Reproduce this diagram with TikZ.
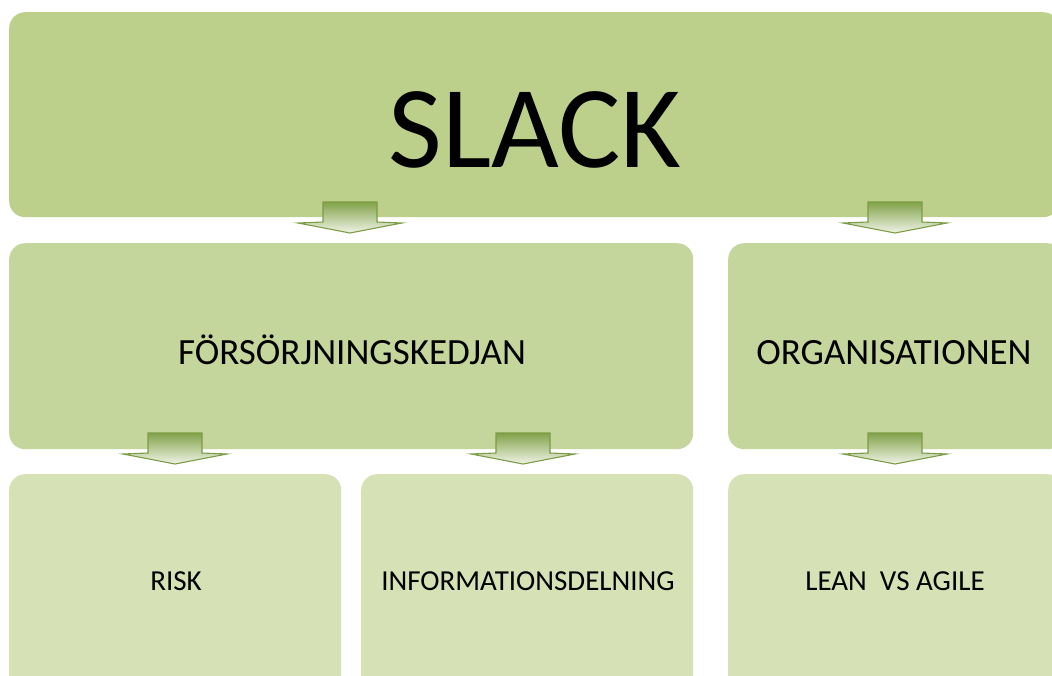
\documentclass[tikz,border=0pt]{standalone}
\usepackage{fontspec}
\setmainfont{Carlito}
\definecolor{topgreen}{HTML}{BDD08B}
\definecolor{midgreen}{HTML}{C4D69B}
\definecolor{botgreen}{HTML}{D6E2B5}
\definecolor{arrowdark}{HTML}{82A24A}
\definecolor{arrowlight}{HTML}{F0F4E6}
\definecolor{arrowline}{HTML}{7C9C45}
\tikzset{
  box/.style={rounded corners=16pt, draw=none, anchor=north west, inner sep=0pt},
  lbl/.style={anchor=base, inner sep=0pt, text=black},
  blockarrow/.pic={
    \path[draw=arrowline, line width=1.1pt, line join=miter, top color=arrowdark, bottom color=arrowlight]
      (-27,-31) -- (27,-31) -- (27,-11) -- (52,-10) -- (0,0) -- (-52,-10) -- (-27,-11) -- cycle;
  }
}
\begin{document}
\begin{tikzpicture}[x=1pt,y=-1pt]
\useasboundingbox (0,0) rectangle (1052,675);
\clip (0,0) rectangle (1052,675);
\fill[white] (0,0) rectangle (1052,675);
% boxes
\node[box, fill=topgreen, minimum width=1050pt, minimum height=205pt] (top) at (9,12) {};
\node[box, fill=midgreen, minimum width=684pt, minimum height=206pt] (midL) at (9,243) {};
\node[box, fill=midgreen, minimum width=335pt, minimum height=206pt] (midR) at (728,243) {};
\node[box, fill=botgreen, minimum width=332pt, minimum height=230pt] (risk) at (9,474) {};
\node[box, fill=botgreen, minimum width=332pt, minimum height=230pt] (info) at (361,474) {};
\node[box, fill=botgreen, minimum width=335pt, minimum height=230pt] (lean) at (728,474) {};
% block arrows
\coordinate (a1) at (350,233);
\coordinate (a2) at (895,233);
\coordinate (a3) at (175,464);
\coordinate (a4) at (523,464);
\coordinate (a5) at (895,464);
\foreach \a in {a1,a2,a3,a4,a5} { \pic at (\a) {blockarrow}; }
% labels
\node[lbl, font=\fontsize{117}{120}\selectfont] (tslack) at (535,167) {SLACK};
\node[lbl, font=\fontsize{37}{40}\selectfont] (tfors) at (352,364) {FÖRSÖRJNINGSKEDJAN};
\node[lbl, font=\fontsize{37}{40}\selectfont] (torg) at (894,364) {ORGANISATIONEN};
\node[lbl, font=\fontsize{29}{32}\selectfont] (trisk) at (176,590) {RISK};
\node[lbl, font=\fontsize{29}{32}\selectfont] (tinfo) at (528,590) {INFORMATIONSDELNING};
\node[lbl, font=\fontsize{29}{32}\selectfont] (tlean) at (895,590) {LEAN\ \ VS AGILE};
\end{tikzpicture}
\end{document}
